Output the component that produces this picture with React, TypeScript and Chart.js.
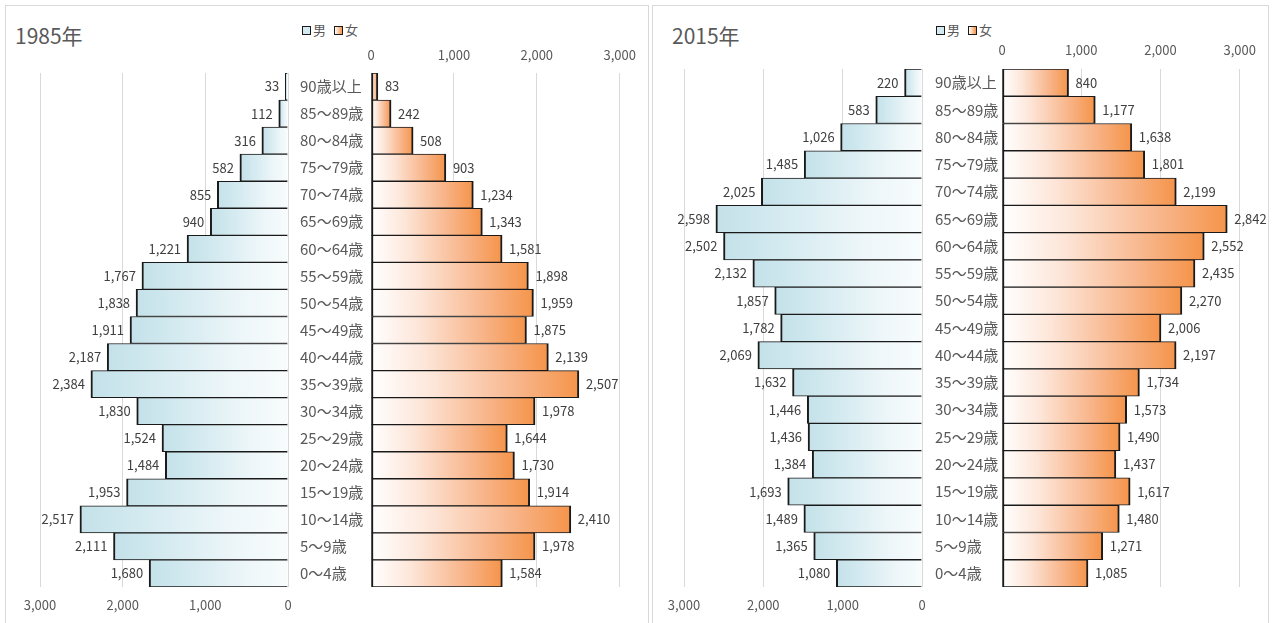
import React, { useEffect, useRef } from 'react';
import { Chart, registerables } from 'chart.js';

Chart.register(...registerables);

// ---------- data ----------
const categories = [
  '90歳以上', '85〜89歳', '80〜84歳', '75〜79歳', '70〜74歳', '65〜69歳', '60〜64歳',
  '55〜59歳', '50〜54歳', '45〜49歳', '40〜44歳', '35〜39歳', '30〜34歳', '25〜29歳',
  '20〜24歳', '15〜19歳', '10〜14歳', '5〜9歳', '0〜4歳',
];
const male1985 = [33, 112, 316, 582, 855, 940, 1221, 1767, 1838, 1911, 2187, 2384, 1830, 1524, 1484, 1953, 2517, 2111, 1680];
const female1985 = [83, 242, 508, 903, 1234, 1343, 1581, 1898, 1959, 1875, 2139, 2507, 1978, 1644, 1730, 1914, 2410, 1978, 1584];
const male2015 = [220, 583, 1026, 1485, 2025, 2598, 2502, 2132, 1857, 1782, 2069, 1632, 1446, 1436, 1384, 1693, 1489, 1365, 1080];
const female2015 = [840, 1177, 1638, 1801, 2199, 2842, 2552, 2435, 2270, 2006, 2197, 1734, 1573, 1490, 1437, 1617, 1480, 1271, 1085];
const tickValues = [0, 1000, 2000, 3000];
const legendLabels = ['男', '女'];

// ---------- styles ----------
const FONT = '"Noto Sans CJK JP", "Noto Sans", sans-serif';
const MALE_STOPS: [number, string][] = [[0, '#f8fcfd'], [0.3, '#edf6f9'], [0.75, '#d1e9ef'], [1, '#c4e1e9']];
const FEMALE_STOPS: [number, string][] = [[0, '#ffffff'], [0.3, '#fde6d9'], [0.7, '#f8b68c'], [1, '#f5944a']];

const fmt = (v: number) => v.toLocaleString('en-US');

const makeFill = (stops: [number, string][]) => (c: any) => {
  const chart = c.chart;
  const xs = chart.scales && chart.scales.x;
  const fallback = stops[stops.length - 1][1];
  if (!xs || c.type !== 'data') return fallback;
  const v = c.raw as number;
  const p0 = xs.getPixelForValue(0);
  const p1 = xs.getPixelForValue(v);
  if (!isFinite(p0) || !isFinite(p1) || p0 === p1) return fallback;
  const g = chart.ctx.createLinearGradient(p0, 0, p1, 0);
  stops.forEach(([o, col]) => g.addColorStop(o, col));
  return g;
};

const valueLabels = {
  id: 'valueLabels',
  afterDatasetsDraw(chart: any, _args: any, opts: any) {
    const { ctx } = chart;
    const meta = chart.getDatasetMeta(0);
    const data = chart.data.datasets[0].data as number[];
    ctx.save();
    ctx.font = `13px ${FONT}`;
    ctx.fillStyle = '#404040';
    ctx.textBaseline = 'middle';
    meta.data.forEach((bar: any, i: number) => {
      const t = fmt(data[i]);
      if (opts.side === 'left') {
        ctx.textAlign = 'right';
        ctx.fillText(t, bar.x - 6, bar.y);
      } else {
        ctx.textAlign = 'left';
        ctx.fillText(t, bar.x + 7, bar.y);
      }
    });
    ctx.restore();
  },
};

type SideProps = {
  values: number[];
  side: 'male' | 'female';
  left: number;
  top: number;
  width: number;
  height: number;
  axisH: number;
  yAxisW: number;
  padL: number;
  padR: number;
  tickPad: number;
};

function SideChart(p: SideProps) {
  const ref = useRef<HTMLCanvasElement>(null);
  useEffect(() => {
    if (!ref.current) return;
    const isMale = p.side === 'male';
    const tickFont = { family: FONT, size: 13 };
    const chart = new Chart(ref.current, {
      type: 'bar',
      data: {
        labels: categories,
        datasets: [
          {
            label: isMale ? legendLabels[0] : legendLabels[1],
            data: p.values,
            backgroundColor: makeFill(isMale ? MALE_STOPS : FEMALE_STOPS) as any,
            borderColor: '#1a1a1a',
            borderWidth: { top: 1, bottom: 1, left: 2, right: 2 } as any,
            borderSkipped: isMale ? 'start' : false,
            barPercentage: 1,
            categoryPercentage: 1,
          },
        ],
      },
      options: {
        indexAxis: 'y',
        animation: false,
        responsive: true,
        maintainAspectRatio: false,
        events: [],
        layout: {
          padding: isMale
            ? { left: p.padL, right: p.padR, top: p.axisH, bottom: 0 }
            : { left: p.padL, right: p.padR, top: 0, bottom: p.axisH },
        },
        plugins: {
          legend: { display: false },
          tooltip: { enabled: false },
          valueLabels: { side: isMale ? 'left' : 'right' },
        } as any,
        scales: {
          x: {
            min: 0,
            max: 3000,
            reverse: isMale,
            position: isMale ? 'bottom' : 'top',
            afterBuildTicks: (s: any) => {
              s.ticks = tickValues.map((v) => ({ value: v }));
            },
            afterFit: (s: any) => {
              s.height = p.axisH;
            },
            ticks: {
              font: tickFont,
              color: '#595959',
              padding: p.tickPad,
              maxRotation: 0,
              autoSkip: false,
              callback: (v: any) => fmt(Number(v)),
            },
            grid: { color: '#d9d9d9', drawTicks: false, lineWidth: 1 },
            border: { display: false },
          },
          y: isMale
            ? { display: false, grid: { display: false } }
            : {
                position: 'left',
                grid: { display: false },
                border: { display: false },
                afterFit: (s: any) => {
                  s.width = p.yAxisW;
                },
                ticks: {
                  crossAlign: 'far',
                  padding: 0,
                  autoSkip: false,
                  font: { family: FONT, size: 15 },
                  color: '#595959',
                },
              },
        },
      },
      plugins: [valueLabels as any],
    });
    return () => chart.destroy();
  }, []);
  return (
    <div style={{ position: 'absolute', left: p.left, top: p.top, width: p.width, height: p.height }}>
      <canvas ref={ref} />
    </div>
  );
}

function Legend({ left, top }: { left: number; top: number }) {
  const box = (bg: string) => (
    <span
      style={{
        display: 'inline-block',
        width: 7,
        height: 7,
        border: '1.5px solid #1a1a1a',
        background: bg,
        marginRight: 2,
        verticalAlign: 'middle',
        position: 'relative',
        top: -1,
      }}
    />
  );
  return (
    <div
      style={{
        position: 'absolute',
        left,
        top,
        fontFamily: FONT,
        fontSize: 13,
        lineHeight: '16px',
        color: '#595959',
        whiteSpace: 'nowrap',
      }}
    >
      {box('#d3eaf0')}
      <span style={{ marginRight: 8 }}>{legendLabels[0]}</span>
      {box('linear-gradient(90deg, #ffffff, #f5944a)')}
      <span>{legendLabels[1]}</span>
    </div>
  );
}

function Panel(props: {
  title: string;
  boxLeft: number;
  boxWidth: number;
  titleLeft: number;
  legendLeft: number;
  legendTop: number;
  male: number[];
  female: number[];
  maleLeft: number;
  maleWidth: number;
  femaleLeft: number;
  femaleWidth: number;
  top: number;
  height: number;
  yAxisW: number;
  tickPadTop: number;
}) {
  return (
    <>
      <div
        style={{
          position: 'absolute',
          left: props.boxLeft,
          top: 5,
          width: props.boxWidth,
          height: 640,
          border: '1px solid #d9d9d9',
          boxSizing: 'border-box',
          background: '#ffffff',
        }}
      />
      <div
        style={{
          position: 'absolute',
          left: props.titleLeft,
          top: 22,
          fontFamily: FONT,
          fontSize: 21,
          lineHeight: '26px',
          color: '#595959',
          whiteSpace: 'nowrap',
        }}
      >
        {props.title}
      </div>
      <Legend left={props.legendLeft} top={props.legendTop} />
      <SideChart
        values={props.male}
        side="male"
        left={props.maleLeft}
        top={props.top}
        width={props.maleWidth}
        height={props.height}
        axisH={33}
        yAxisW={0}
        padL={25}
        padR={25}
        tickPad={10}
      />
      <SideChart
        values={props.female}
        side="female"
        left={props.femaleLeft}
        top={props.top}
        width={props.femaleWidth}
        height={props.height}
        axisH={33}
        yAxisW={props.yAxisW}
        padL={10}
        padR={22}
        tickPad={props.tickPadTop}
      />
    </>
  );
}

export default function App() {
  return (
    <div
      style={{
        position: 'absolute',
        left: 0,
        top: 0,
        width: 1274,
        height: 623,
        overflow: 'hidden',
        background: '#ffffff',
      }}
    >
      <Panel
        title="1985年"
        boxLeft={5}
        boxWidth={644}
        titleLeft={15}
        legendLeft={302}
        legendTop={22}
        male={male1985}
        female={female1985}
        maleLeft={15}
        maleWidth={298}
        femaleLeft={290}
        femaleWidth={356}
        top={40}
        height={580}
        yAxisW={71}
        tickPadTop={10}
      />
      <Panel
        title="2015年"
        boxLeft={652}
        boxWidth={617}
        titleLeft={672}
        legendLeft={936}
        legendTop={22}
        male={male2015}
        female={female2015}
        maleLeft={659}
        maleWidth={288}
        femaleLeft={925}
        femaleWidth={342}
        top={36}
        height={584}
        yAxisW={67}
        tickPadTop={11}
      />
    </div>
  );
}
